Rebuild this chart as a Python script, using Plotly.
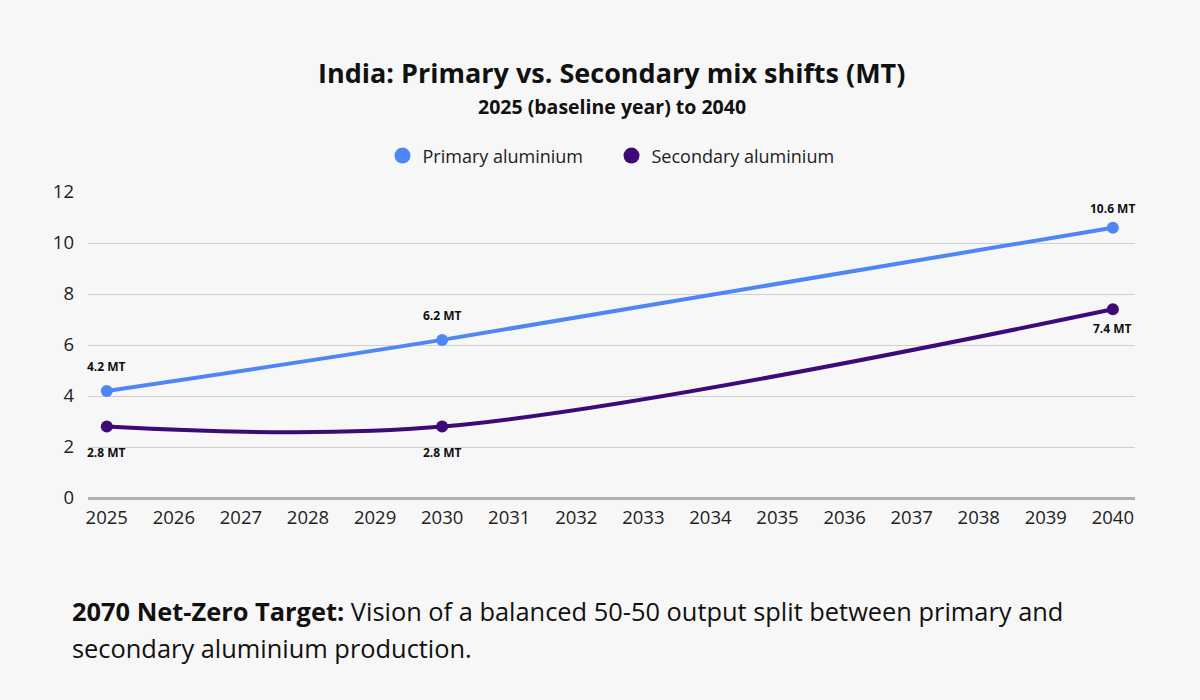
import plotly.graph_objects as go

years = [2025, 2030, 2040]
primary = [4.2, 6.2, 10.6]
secondary = [2.8, 2.8, 7.4]
primary_labels = ["4.2 MT", "6.2 MT", "10.6 MT"]
secondary_labels = ["2.8 MT", "2.8 MT", "7.4 MT"]
x_ticks = list(range(2025, 2041))
y_ticks = [0, 2, 4, 6, 8, 10, 12]

FONT = "Open Sans"
BLUE = "#4f86f7"
PURPLE = "#3d0a78"
INK = "#111111"

fig = go.Figure()
series = [
    ("Primary aluminium", primary, primary_labels, BLUE, [24, 24, 19]),
    ("Secondary aluminium", secondary, secondary_labels, PURPLE, [-26, -26, -19]),
]
for name, vals, labels, color, shifts in series:
    fig.add_trace(go.Scatter(
        x=years, y=vals, name=name, mode="lines+markers", showlegend=False,
        line=dict(color=color, width=4, shape="spline"),
        marker=dict(size=12, color=color),
    ))
    for xv, yv, lab, sh in zip(years, vals, labels, shifts):
        fig.add_annotation(
            x=xv, y=yv, text="<b>" + lab + "</b>", showarrow=False, yshift=sh,
            font=dict(family=FONT, size=12, color=INK),
        )
for name, vals, labels, color, shifts in series:
    fig.add_trace(go.Scatter(
        x=[None], y=[None], name=name, mode="markers",
        marker=dict(size=18, color=color),
    ))

fig.update_layout(
    width=1200, height=700,
    paper_bgcolor="#f7f7f7", plot_bgcolor="#f7f7f7",
    margin=dict(l=88, r=65, t=192, b=202),
    font=dict(family=FONT, color=INK),
    legend=dict(
        orientation="h", x=0.5, xanchor="center", y=1.118, yanchor="middle",
        font=dict(size=18, family=FONT, color="#222222"),
        bgcolor="rgba(0,0,0,0)", entrywidth=184, entrywidthmode="pixels",
    ),
    showlegend=True,
)
fig.update_xaxes(
    range=[2024.72, 2040.33], tickvals=x_ticks, ticktext=[str(v) for v in x_ticks],
    showgrid=False, zeroline=False, showline=False,
    tickfont=dict(size=18.5, family=FONT, color="#222222"), ticklabelstandoff=6,
)
fig.update_yaxes(
    range=[0, 12], tickvals=y_ticks, showgrid=True, gridcolor="#cfcfcf", gridwidth=1,
    zeroline=True, zerolinecolor="#b0b0b0", zerolinewidth=3,
    tickfont=dict(size=18.5, family=FONT, color="#222222"), ticklabelstandoff=13,
)

# title and subtitle
fig.add_annotation(
    xref="paper", yref="paper", x=0.5, y=1.389, xanchor="center", yanchor="middle",
    showarrow=False, text="<b>India: Primary vs. Secondary mix shifts (MT)</b>",
    font=dict(size=27, family=FONT, color=INK),
)
fig.add_annotation(
    xref="paper", yref="paper", x=0.5, y=1.281, xanchor="center", yanchor="middle",
    showarrow=False, text="<b>2025 (baseline year) to 2040</b>",
    font=dict(size=19.5, family=FONT, color=INK),
)

# footnote
fig.add_annotation(
    xref="paper", yref="paper", x=-0.0172, y=-0.369, xanchor="left", yanchor="middle",
    align="left", showarrow=False,
    text="<b>2070 Net-Zero Target:</b> Vision of a balanced 50-50 output split between primary and",
    font=dict(size=25.4, family=FONT, color=INK),
)
fig.add_annotation(
    xref="paper", yref="paper", x=-0.0172, y=-0.490, xanchor="left", yanchor="middle",
    align="left", showarrow=False,
    text="secondary aluminium production.",
    font=dict(size=25.4, family=FONT, color=INK),
)

fig.write_html("out.html")
